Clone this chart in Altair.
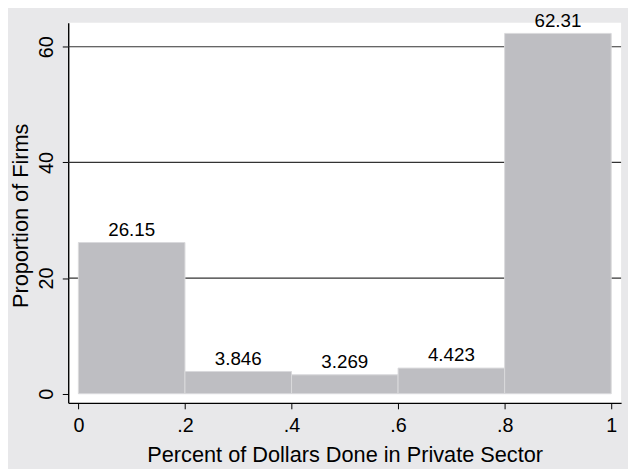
import altair as alt
import pandas as pd

# ---- data ----
bin_start = [0.0, 0.2, 0.4, 0.6, 0.8]
bin_end = [0.2, 0.4, 0.6, 0.8, 1.0]
proportion = [26.15, 3.846, 3.269, 4.423, 62.31]
bar_labels = ["26.15", "3.846", "3.269", "4.423", "62.31"]
x_ticks = [0, 0.2, 0.4, 0.6, 0.8, 1.0]
x_tick_labels = ["0", ".2", ".4", ".6", ".8", "1"]
y_ticks = [0, 20, 40, 60]
grid_values = [20, 40, 60]
x_title = "Percent of Dollars Done in Private Sector"
y_title = "Proportion of Firms"

FONT = "Liberation Sans"
BG = "#e8e8ea"
BAR = "#bebec2"
BAR_EDGE = "#d9d9db"

df = pd.DataFrame({"start": bin_start, "end": bin_end,
                   "value": proportion, "label": bar_labels})
df["mid"] = (df["start"] + df["end"]) / 2
grid_df = pd.DataFrame({"value": grid_values})

label_expr = " : ".join(
    f"abs(datum.value - {v}) < 1e-6 ? '{l}'" for v, l in zip(x_ticks, x_tick_labels)
) + " : ''"

x_scale = alt.Scale(domain=[-0.01908, 1.01853], nice=False, zero=False)
y_scale = alt.Scale(domain=[-1.588, 64.15], nice=False, zero=False)

x_axis = alt.Axis(
    values=x_ticks, labelExpr=label_expr, grid=False,
    domainColor="black", domainWidth=1.4, tickColor="black", tickWidth=1,
    tickSize=6, labelPadding=23, labelFontSize=20, labelFont=FONT,
    labelColor="black", labelBaseline="alphabetic",
    title=x_title, titleFont=FONT, titleFontSize=22,
    titleFontWeight="normal", titleColor="black", titleBaseline="alphabetic",
    titleY=59, labelFlush=False,
)
y_axis = alt.Axis(
    values=y_ticks, grid=False,
    domainColor="black", domainWidth=1.4, tickColor="black", tickWidth=1,
    tickSize=6, labelPadding=10, labelFontSize=20, labelFont=FONT,
    labelColor="black", labelAngle=270, labelAlign="center",
    labelBaseline="alphabetic",
    title=y_title, titleFont=FONT, titleFontSize=22,
    titleFontWeight="normal", titleColor="black", titleBaseline="alphabetic",
    titleAngle=270, titleX=-41, titleY=195, titleAlign="center",
    labelFlush=False,
)

grid = alt.Chart(grid_df).mark_rule(color="#333333", strokeWidth=1.2).encode(
    y=alt.Y("value:Q", scale=y_scale, axis=y_axis)
)

bars = alt.Chart(df).mark_rect(
    color=BAR, stroke=BAR_EDGE, strokeWidth=1
).encode(
    x=alt.X("start:Q", scale=x_scale, axis=x_axis),
    x2="end:Q",
    y=alt.Y("value:Q", scale=y_scale, axis=y_axis),
    y2=alt.datum(0),
)

texts = alt.Chart(df).mark_text(
    font=FONT, fontSize=19, color="black", baseline="alphabetic",
    align="center", dy=-7
).encode(
    x=alt.X("mid:Q", scale=x_scale, axis=x_axis),
    y=alt.Y("value:Q", scale=y_scale, axis=y_axis),
    text="label:N",
)

chart = alt.layer(grid, bars, texts).properties(
    width=560, height=385,
    autosize=alt.AutoSizeParams(type="none"),
    padding={"left": 61, "top": 12, "right": 7, "bottom": 64},
    background=BG,
).configure_view(fill="white", stroke=None)

chart.save("out.html", embed_options={"renderer": "svg", "actions": False})
